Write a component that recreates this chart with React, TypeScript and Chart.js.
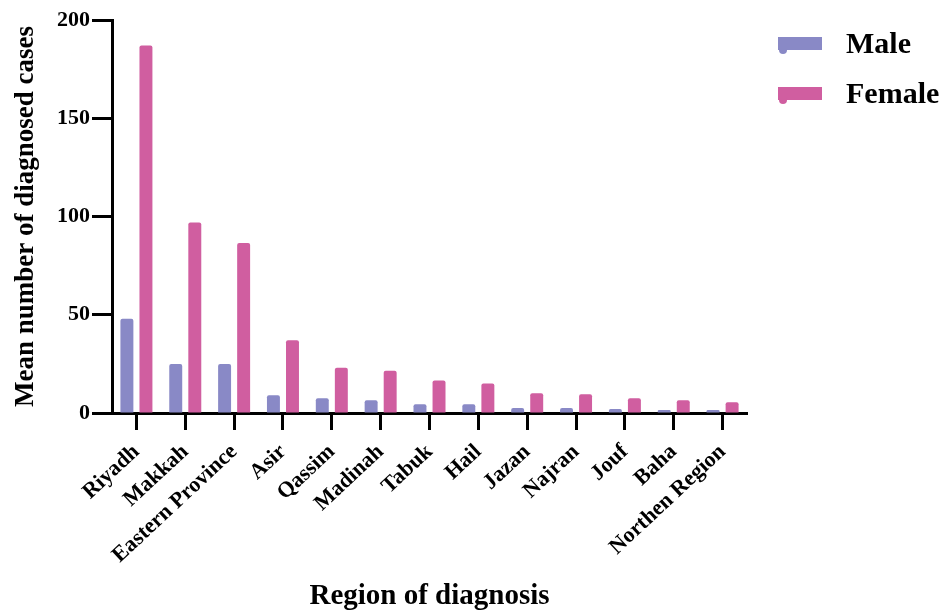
import React, { useEffect, useRef } from "react";
import { Chart, registerables } from "chart.js";

Chart.register(...registerables);

const categories = [
  "Riyadh", "Makkah", "Eastern Province", "Asir", "Qassim", "Madinah", "Tabuk",
  "Hail", "Jazan", "Najran", "Jouf", "Baha", "Northen Region",
];
const maleValues = [48, 25, 25, 9, 7.5, 6.5, 4.5, 4.5, 2.5, 2.5, 2, 1.5, 1.5];
const femaleValues = [187, 97, 86.5, 37, 23, 21.5, 16.5, 15, 10, 9.5, 7.5, 6.5, 5.5];
const yTicks = [0, 50, 100, 150, 200];

const MALE_COLOR = "rgb(137,137,198)";
const FEMALE_COLOR = "rgb(208,94,160)";
const FONT = "'Liberation Serif', 'Times New Roman', serif";

const legendPlugin = {
  id: "customLegend",
  afterDraw(chart: any) {
    const ctx = chart.ctx;
    const items = [
      { label: "Male", color: MALE_COLOR, y: 44 },
      { label: "Female", color: FEMALE_COLOR, y: 94 },
    ];
    ctx.save();
    items.forEach((it) => {
      ctx.fillStyle = it.color;
      ctx.beginPath();
      ctx.rect(778, it.y - 7, 44, 13);
      ctx.fill();
      ctx.beginPath();
      ctx.arc(783, it.y + 6, 4, 0, Math.PI * 2);
      ctx.fill();
      ctx.fillStyle = "#000";
      ctx.font = `bold 30px ${FONT}`;
      ctx.textBaseline = "middle";
      ctx.textAlign = "left";
      ctx.fillText(it.label, 846, it.y + 1);
    });
    ctx.restore();
  },
};

export default function App() {
  const ref = useRef<HTMLCanvasElement | null>(null);
  useEffect(() => {
    if (!ref.current) return;
    const chart = new Chart(ref.current, {
      type: "bar",
      data: {
        labels: categories,
        datasets: [
          {
            label: "Male",
            data: maleValues,
            backgroundColor: MALE_COLOR,
            borderRadius: { topLeft: 2, topRight: 2, bottomLeft: 0, bottomRight: 0 },
            borderSkipped: "bottom",
          },
          {
            label: "Female",
            data: femaleValues,
            backgroundColor: FEMALE_COLOR,
            borderRadius: { topLeft: 2, topRight: 2, bottomLeft: 0, bottomRight: 0 },
            borderSkipped: "bottom",
          },
        ],
      },
      options: {
        responsive: false,
        animation: false,
        devicePixelRatio: 1,
        layout: { padding: { top: 20, right: 193, left: 0, bottom: 0 } },
        datasets: { bar: { categoryPercentage: 0.78, barPercentage: 0.68 } },
        plugins: { legend: { display: false }, tooltip: { enabled: false } },
        scales: {
          x: {
            offset: true,
            grid: {
              offset: false,
              drawOnChartArea: false,
              drawTicks: true,
              tickLength: 17,
              tickWidth: 3,
              tickColor: "#000",
            },
            border: { display: true, color: "#000", width: 3 },
            ticks: {
              autoSkip: false,
              minRotation: 43,
              maxRotation: 43,
              padding: 9,
              color: "#000",
              font: { family: FONT, size: 22, weight: "bold" },
            },
            title: {
              display: true,
              text: "Region of diagnosis",
              color: "#000",
              font: { family: FONT, size: 29, weight: "bold", lineHeight: 1 },
              padding: { top: 0, bottom: -1 },
            },
            afterFit(scale: any) {
              scale.height = 197;
            },
          },
          y: {
            min: 0,
            max: 200,
            afterBuildTicks(scale: any) {
              scale.ticks = yTicks.map((v) => ({ value: v }));
            },
            grid: {
              drawOnChartArea: false,
              drawTicks: true,
              tickLength: 20,
              tickWidth: 3,
              tickColor: "#000",
            },
            border: { display: true, color: "#000", width: 3 },
            ticks: {
              padding: 2,
              color: "#000",
              font: { family: FONT, size: 22, weight: "bold" },
            },
            title: {
              display: true,
              text: "Mean number of diagnosed cases",
              color: "#000",
              font: { family: FONT, size: 27, weight: "bold", lineHeight: 1 },
              padding: { top: 13, bottom: 0 },
            },
            afterFit(scale: any) {
              scale.width = 112;
            },
          },
        },
      },
      plugins: [legendPlugin],
    });
    return () => chart.destroy();
  }, []);
  return (
    <div style={{ position: "fixed", left: 0, top: 0, width: 940, height: 610, background: "#fff" }}>
      <canvas ref={ref} width={940} height={610} style={{ display: "block" }} />
    </div>
  );
}
